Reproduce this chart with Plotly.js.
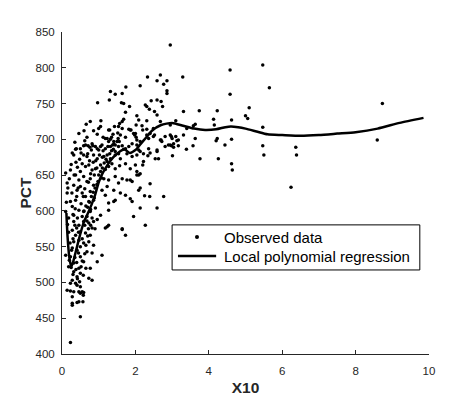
<!DOCTYPE html>
<html>
<head>
<meta charset="utf-8">
<script src="https://cdn.plot.ly/plotly-3.0.1.min.js"></script>
<style>
  html, body { margin: 0; padding: 0; background: #fff; }
  #plot { width: 474px; height: 399px; }
</style>
</head>
<body>
<div id="plot"></div>
<script>
let obsX = [
  2.95,3.29,4.58,5.47,5.65,4.58,3.31,3.74,4.23,5.10,4.13,4.62,5.00,5.06,3.63,3.58,3.40,4.15,5.47,3.63,
  4.23,4.20,4.62,3.57,4.44,5.47,6.37,3.39,3.76,4.26,4.64,4.62,5.50,6.39,6.24,8.73,8.59,3.31,3.17,
  2.13,2.33,2.68,2.59,2.77,2.86,2.86,2.86,2.43,2.59,2.27,2.31,2.38,2.52,2.59,2.74,2.31,2.68,3.10,2.02,
  2.18,2.31,2.49,2.95,2.00,2.04,2.36,2.49,2.68,2.72,2.98,3.10,3.13,2.04,2.36,2.90,2.98,3.04,3.17,2.59,
  2.40,3.01,2.63,2.54,2.22,2.13,2.09,2.04,2.70,
  0.68,0.59,0.71,0.39,0.84,0.96,1.05,1.18,1.27,1.35,1.41,1.45,1.53,1.59,1.56,1.64,1.73,1.86,1.98,2.13,
  2.20,2.31,2.40,2.52,2.70,2.81,2.95,3.00,3.04,
  1.74,1.32,1.45,1.64,0.97,1.29,1.62,1.68,1.84,1.73,1.68,1.64,1.06,0.77,0.66,1.05,1.00,0.46,0.86,0.96,
  1.12,1.30,1.39,1.43,1.54,1.57,1.52,1.64,1.82,1.88,1.95,1.23,1.32,1.73,2.02,
  0.50,0.64,0.76,0.82,0.91,1.00,1.09,1.18,1.27,1.32,1.41,1.50,1.54,1.68,1.82,1.91,0.37,0.32,0.59,0.68,
  0.86,0.96,1.14,1.23,1.32,1.45,1.54,1.59,1.77,1.91,2.04,2.09,0.55,0.64,0.73,0.82,0.91,1.05,1.23,1.27,
  1.36,1.45,1.57,1.73,1.86,2.00,0.50,0.23,0.37,0.46,0.59,0.68,0.77,0.10,1.14,1.27,1.45,1.64,1.77,1.91,
  2.09,0.14,0.32,0.50,0.86,1.23,1.54,0.14,0.41,0.55,0.64,0.77,1.09,1.18,1.41,1.45,1.59,1.73,2.09,0.23,
  0.37,0.73,0.86,1.27,0.10,0.28,0.46,0.59,0.77,0.91,1.05,1.27,1.41,0.68,0.82,0.32,0.18,0.96,
  0.32,0.46,0.59,0.73,0.86,0.82,1.18,1.27,1.23,1.64,1.73,0.28,0.37,0.50,0.64,0.77,0.32,0.46,0.59,0.73,
  0.86,0.28,0.41,0.68,0.82,1.09,0.10,0.23,0.50,0.59,0.96,0.32,0.18,0.46,0.77,0.32,0.50,0.41,0.73,0.82,
  0.28,0.23,0.37,0.14,0.23,0.32,0.50,0.55,0.28,
  0.41,0.46,0.59,0.28,0.41,0.46,0.57,0.28,0.50,0.23,0.50,0.58,
  1.95,2.13,2.59,2.39,2.25,2.13,2.40,2.77,2.04,1.86,2.13,2.22,2.20,2.59,2.95,2.81,2.34,2.27,1.64,1.91,
  1.86,2.04,
  0.60,0.65,0.70,0.75,0.80,0.85,0.90,0.95,1.00,1.05,1.10,1.15,1.20,1.30,1.35,1.40,1.45,0.55,0.62,0.68,
  0.78,0.88,0.98,1.08,1.18,0.45,0.40,0.35,0.42,0.52,0.58,0.62,0.72,0.78,0.85,0.92,1.02,1.12,0.30,0.26,
  0.35,0.40,0.45,0.50,0.55,0.38,0.42,0.48,0.30,0.25,0.20,0.22,0.18,0.15,0.12,0.16,0.20,0.25,0.28,0.35,
  0.42,0.48,0.52,0.62,0.60,0.36,0.40,0.44,0.27,0.33,0.38,0.70,0.75,0.80,0.88,0.95,1.10,1.25,1.38,0.30,
  0.65,0.70,0.72,0.78,0.90,0.55,0.62,0.65,0.52,0.58
];
let obsY = [
  832,787,797,804,772,763,739,740,740,744,728,727,733,729,721,719,715,720,717,701,
  701,698,700,691,692,691,689,686,673,673,657,666,678,678,633,750,699,706,691,
  775,787,790,782,777,782,768,764,754,755,748,746,742,739,734,746,726,725,726,720,
  719,714,715,720,708,699,701,704,699,697,704,704,698,692,687,692,691,689,699,685,
  681,677,673,673,680,683,727,733,753,
  703,691,691,687,691,687,690,701,713,703,697,692,701,706,697,691,687,713,706,697,
  713,706,708,706,699,704,706,701,694,
  773,767,763,764,751,755,751,750,746,738,728,725,726,725,721,718,715,708,712,707,
  703,713,707,718,718,722,709,715,714,713,708,701,700,703,703,
  687,692,689,694,690,685,692,687,697,690,693,697,690,686,690,694,686,678,678,676,
  678,673,676,678,673,678,680,673,680,676,678,685,666,662,664,657,659,664,669,662,
  666,659,663,666,659,664,655,657,650,643,648,641,645,653,645,643,648,645,643,641,
  650,639,636,634,636,634,639,625,629,625,620,627,629,622,629,615,625,622,629,613,
  615,613,615,611,599,606,601,599,599,604,594,601,613,592,590,594,590,588,
  585,580,585,583,585,576,576,580,578,574,566,573,566,571,569,566,557,559,555,557,
  552,548,545,543,541,538,538,536,536,529,529,527,522,520,520,515,513,508,506,503,
  503,499,499,489,488,487,494,487,480,
  496,487,486,471,472,473,473,468,452,416,485,482,
  592,604,604,620,621,632,638,620,650,643,652,669,664,683,692,690,677,580,575,613,
  617,655,
  600,607,605,612,620,626,632,637,650,655,660,667,672,680,684,686,683,592,580,586,
  602,618,641,646,658,570,576,580,590,610,620,631,640,652,668,670,678,684,561,545,
  535,528,541,550,561,518,505,501,511,521,531,555,570,581,612,632,645,665,681,696,
  661,672,681,698,712,603,620,632,625,650,668,680,670,685,650,660,675,690,692,595,
  552,565,575,580,575,530,540,520,522,510
];

// Local polynomial regression curve
let fitX = [0.12,0.15,0.20,0.25,0.30,0.40,0.50,0.60,0.70,0.80,0.90,1.00,1.10,1.25,1.40,1.55,1.70,
            1.85,2.00,2.15,2.30,2.45,2.70,3.00,3.30,3.60,3.90,4.20,4.45,4.60,4.80,5.00,5.30,5.60,
            6.00,6.50,7.00,7.50,8.00,8.60,9.20,9.85];
let fitY = [597,565,535,522,528,548,568,585,596,608,622,640,652,665,675,682,686,
            681,685,694,703,712,720,723,719,715,713,714,717,718,717,715,711,707,
            706,705,706,708,710,715,723,730];

let xTicks = [0, 2, 4, 6, 8, 10];
let yTicks = [400, 450, 500, 550, 600, 650, 700, 750, 800, 850];
let legendNames = ['Observed data', 'Local polynomial regression'];

let axisColor = '#262626';
let fontFamily = 'Liberation Sans, Arial, Helvetica, sans-serif';

let scatter = {
  x: obsX,
  y: obsY,
  mode: 'markers',
  type: 'scatter',
  name: legendNames[0],
  marker: {color: 'black', size: 3.5}
};

let curve = {
  x: fitX,
  y: fitY,
  mode: 'lines',
  type: 'scatter',
  name: legendNames[1],
  line: {color: 'black', width: 2.5, shape: 'spline', smoothing: 0.6}
};

// legend box drawn by hand (paper coords), MATLAB style
let box = {x0: 0.300, x1: 0.975, y0: 0.261, y1: 0.401};
let row1 = 0.363, row2 = 0.304;

let layout = {
  width: 474,
  height: 399,
  margin: {l: 62, r: 45, t: 32, b: 45},
  paper_bgcolor: 'white',
  plot_bgcolor: 'white',
  font: {family: fontFamily, color: axisColor},
  showlegend: false,
  xaxis: {
    range: [0, 10],
    tickvals: xTicks,
    ticks: 'inside',
    ticklen: 4,
    tickcolor: axisColor,
    showline: true,
    linecolor: axisColor,
    linewidth: 1,
    showgrid: false,
    zeroline: false,
    tickfont: {size: 11.5, color: axisColor},
    ticklabelstandoff: 6,
    title: {text: 'X10', font: {size: 15.5, weight: 'bold', color: axisColor}, standoff: 6}
  },
  yaxis: {
    range: [400, 850],
    tickvals: yTicks,
    ticks: 'inside',
    ticklen: 4,
    tickcolor: axisColor,
    showline: true,
    linecolor: axisColor,
    linewidth: 1,
    showgrid: false,
    zeroline: false,
    tickfont: {size: 11.5, color: axisColor},
    ticklabelstandoff: 4,
    title: {text: 'PCT', font: {size: 15.5, weight: 'bold', color: axisColor}, standoff: 0}
  },
  shapes: [
    {type: 'rect', xref: 'paper', yref: 'paper', x0: box.x0, x1: box.x1, y0: box.y0, y1: box.y1,
     fillcolor: 'white', line: {color: 'black', width: 1}, layer: 'above'},
    {type: 'circle', xref: 'paper', yref: 'paper', x0: 0.3623, x1: 0.3733, y0: row1 - 0.0062, y1: row1 + 0.0062,
     fillcolor: 'black', line: {color: 'black', width: 0}, layer: 'above'},
    {type: 'line', xref: 'paper', yref: 'paper', x0: 0.316, x1: 0.420, y0: row2, y1: row2,
     line: {color: 'black', width: 2.5}, layer: 'above'}
  ],
  annotations: [
    {xref: 'paper', yref: 'paper', x: 0.436, y: row1, xanchor: 'left', yanchor: 'middle',
     text: legendNames[0], showarrow: false, font: {size: 15, color: 'black'}},
    {xref: 'paper', yref: 'paper', x: 0.436, y: row2, xanchor: 'left', yanchor: 'middle',
     text: legendNames[1], showarrow: false, font: {size: 15, color: 'black'}}
  ]
};

Plotly.newPlot('plot', [scatter, curve], layout, {displayModeBar: false, staticPlot: true});
</script>
</body>
</html>
